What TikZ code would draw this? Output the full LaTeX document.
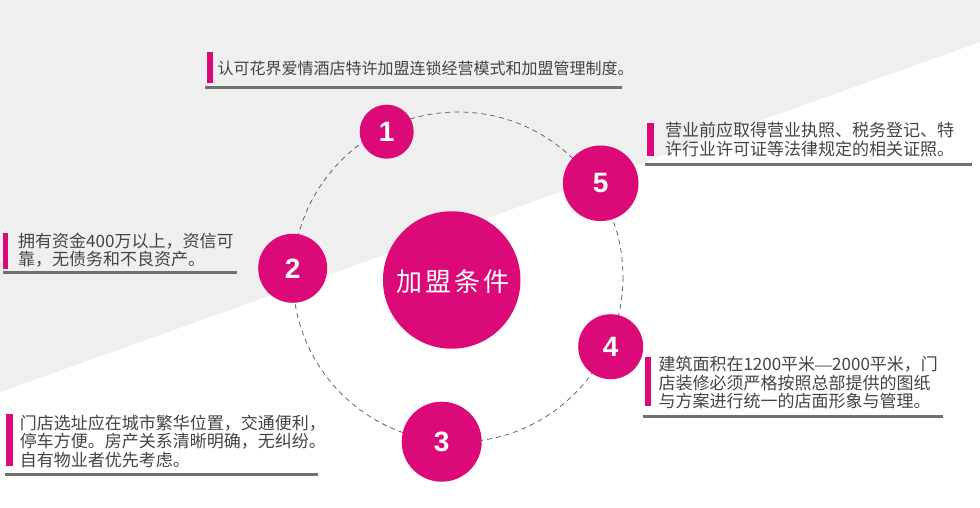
\documentclass[tikz,border=0pt]{standalone}
\usepackage{fontspec}
\newfontfamily\cjk{Noto Sans CJK SC}
\newfontfamily\numfont{Liberation Sans}
\newfontfamily\dashfont{Liberation Serif}
\definecolor{brand}{RGB}{219,10,120}
\definecolor{bggray}{RGB}{239,239,239}
\definecolor{txtgray}{RGB}{68,68,68}
\definecolor{rulegray}{RGB}{112,112,112}
\definecolor{dashgray}{RGB}{85,85,85}
\begin{document}
\begin{tikzpicture}[x=1pt,y=-1pt,
  numcircle/.style={circle,fill=brand,inner sep=0pt,minimum size=#1,
    text=white,font=\numfont\bfseries\fontsize{28}{28}\selectfont},
  bigcircle/.style={circle,fill=brand,inner sep=0pt,minimum size=#1},
  centertext/.style={inner sep=0pt,text=white,font=\cjk\fontsize{26}{26}\selectfont},
  desc/.style={inner sep=0pt,anchor=west,align=left,text=txtgray,
    font=\cjk\fontsize{17}{18.5}\selectfont},
  desctop/.style={desc,font=\cjk\fontsize{16}{18}\selectfont},
  accentbar/.style={fill=brand},
  underline/.style={draw=rulegray,line width=3pt},
  orbit/.style={draw=dashgray,line width=0.7pt,dash pattern=on 5pt off 4pt}
]
\useasboundingbox (0,0) rectangle (980,508);
% background
\fill[white] (0,0) rectangle (980,508);
\fill[bggray] (0,0) -- (980,0) -- (980,42) -- (0,392) -- cycle;

% orbit
\draw[orbit] (458,277) circle[radius=165];

% circles
\node[bigcircle=137.5pt] (core) at (451.7,280) {};
\node[centertext] (coretext) at (453,281.7) {加\kern3pt 盟\kern3pt 条\kern3pt 件};

\node[numcircle=54pt]   (c1) at (386.7,131.7) {1};
\node[numcircle=69pt]   (c2) at (292.7,268.3) {2};
\node[numcircle=80pt]   (c3) at (441.7,441.7) {3};
\node[numcircle=65pt]   (c4) at (610.7,346.7) {4};
\node[numcircle=75.6pt] (c5) at (600.7,183.3) {5};

% box 1
\fill[accentbar] (207.3,52.3) rectangle (213.3,83.3);
\node[desctop] (t1) at (217.3,68.3) {认可花界爱情酒店特许加盟连锁经营模式和加盟管理制度。};
\draw[underline] (205,87.3) -- (622,87.3);

% box 2
\fill[accentbar] (3.3,232.7) rectangle (7.8,269);
\node[desc] (t2) at (18,250) {拥有资金400万以上，资信可\\靠，无债务和不良资产。};
\draw[underline] (3,272.3) -- (237,272.3);

% box 3
\fill[accentbar] (6,414.3) rectangle (12.5,466);
\node[desc] (t3) at (19.7,441.4) {门店选址应在城市繁华位置，交通便利，\\停车方便。房产关系清晰明确，无纠纷。\\自有物业者优先考虑。};
\draw[underline] (5,474) -- (318,474);

% box 4
\fill[accentbar] (645,357.3) rectangle (650.8,406);
\node[desc] (t4) at (658.3,382.8) {建筑面积在1200平米{\dashfont —}2000平米，门\\店装修必须严格按照总部提供的图纸\\与方案进行统一的店面形象与管理。};
\draw[underline] (643,416) -- (943,416);

% box 5
\fill[accentbar] (647,123) rectangle (654,156);
\node[desc] (t5) at (665,139.5) {营业前应取得营业执照、税务登记、特\\许行业许可证等法律规定的相关证照。};
\draw[underline] (645,165) -- (972,165);
\end{tikzpicture}
\end{document}
